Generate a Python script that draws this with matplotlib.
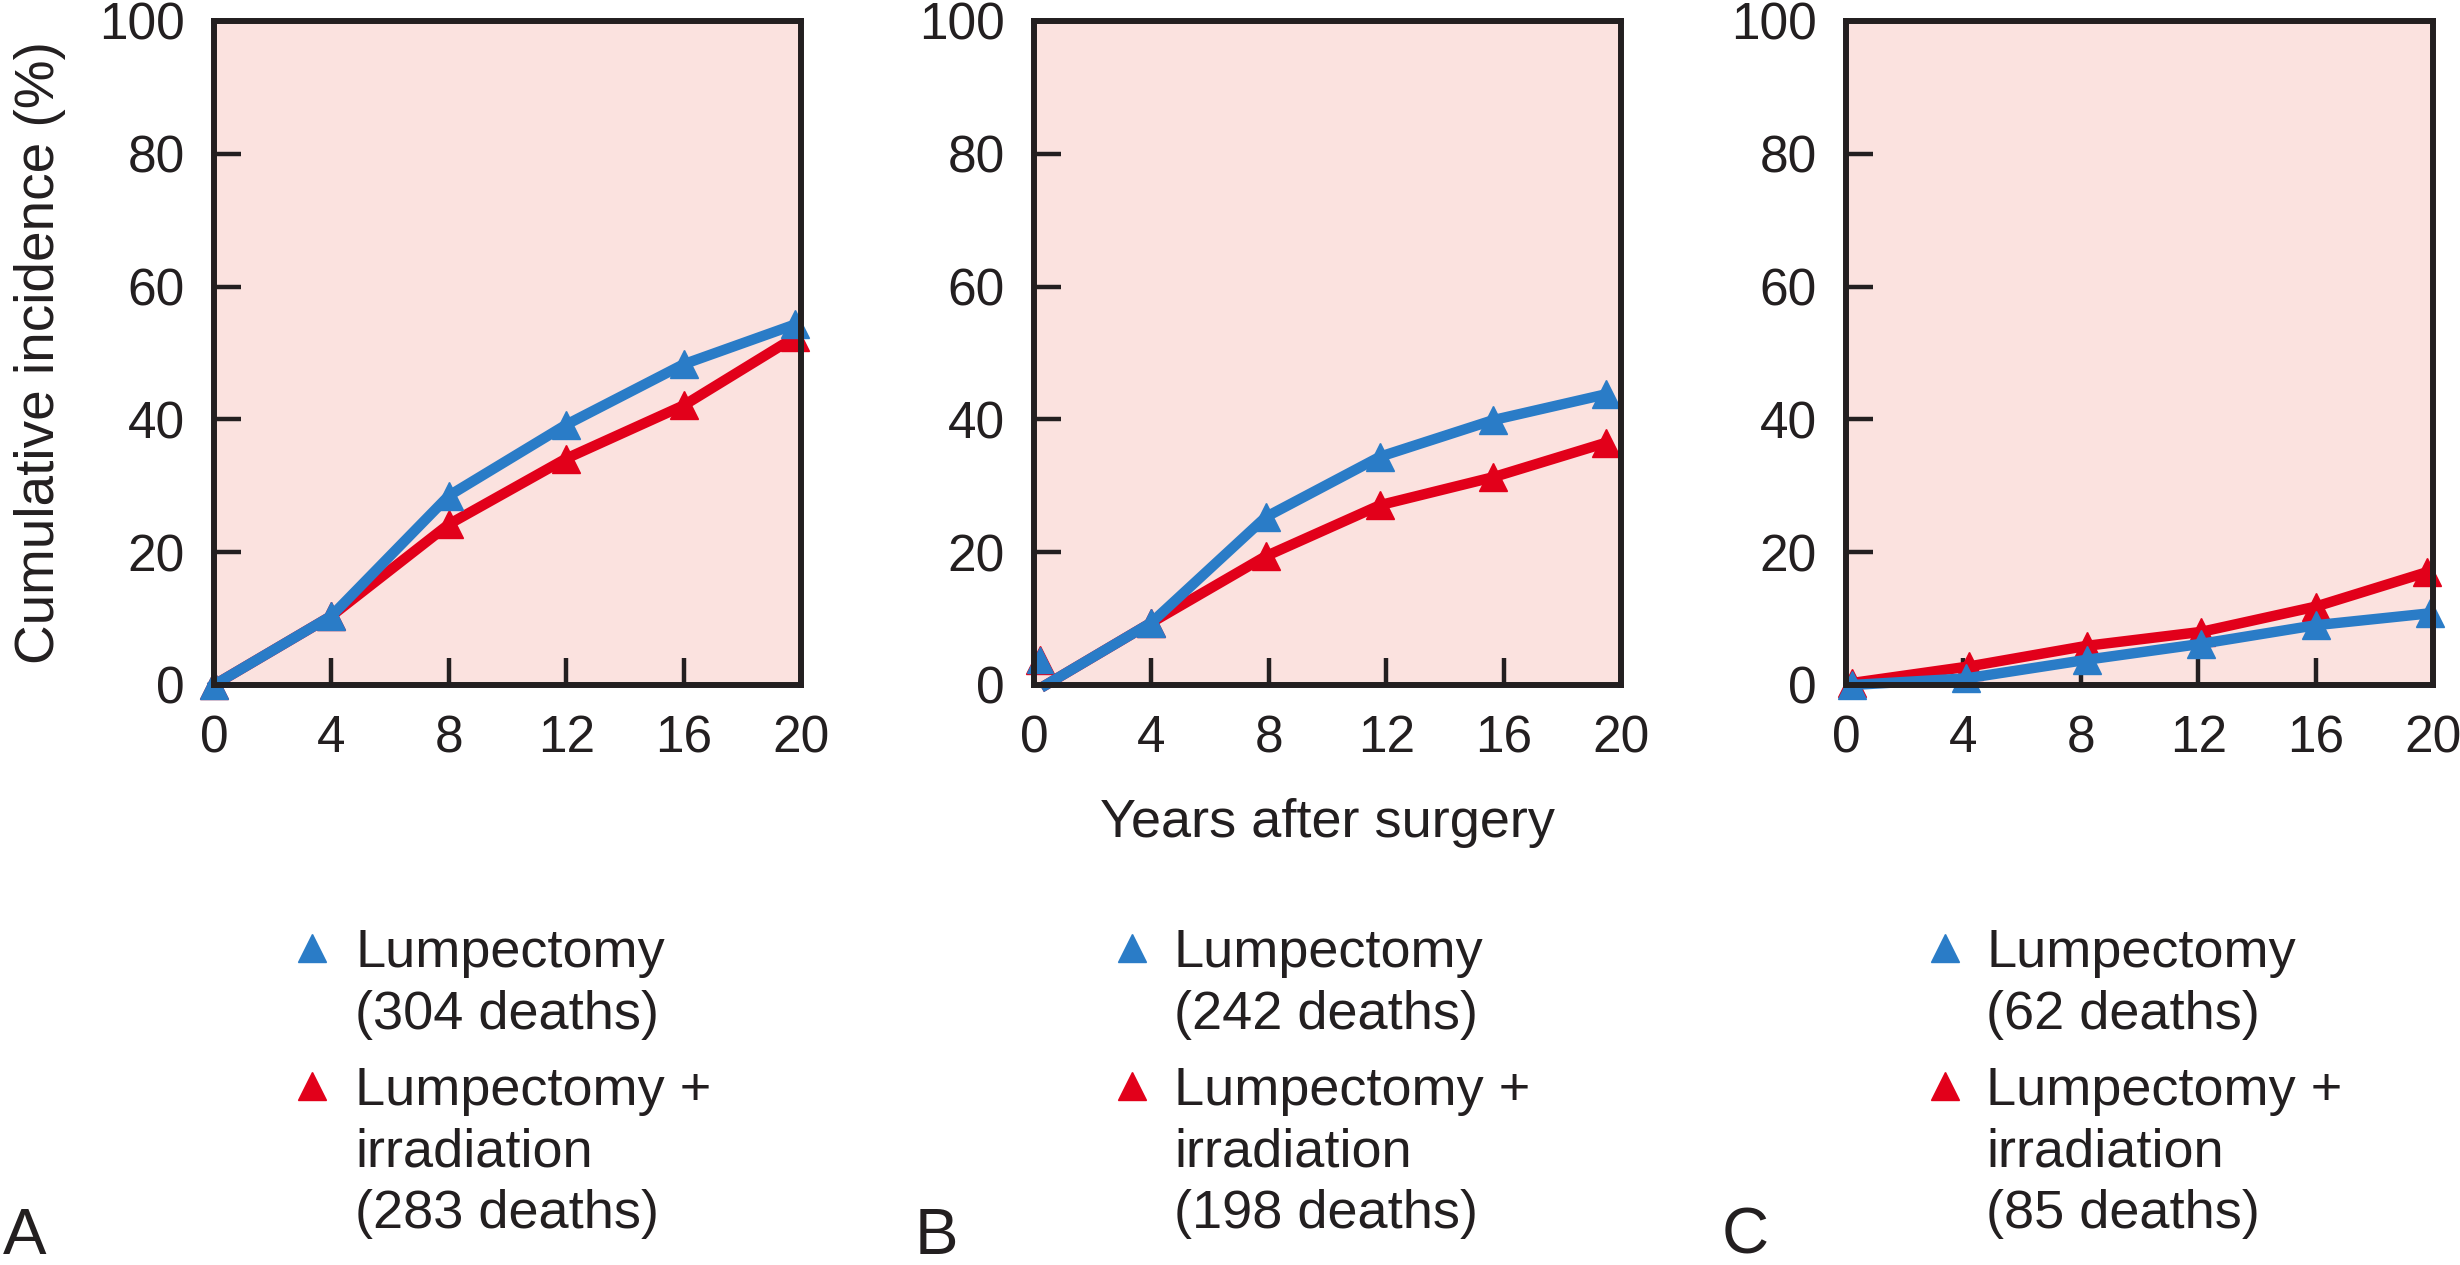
import numpy as np
import matplotlib
matplotlib.use('Agg')
import matplotlib.pyplot as plt
from matplotlib.lines import Line2D

plt.rcParams['font.family'] = ['Liberation Sans', 'DejaVu Sans']

# ---------------------------------------------------------
# 1. Data
# ---------------------------------------------------------

year_ticks = [0, 4, 8, 12, 16, 20]
incidence_ticks = [0, 20, 40, 60, 80, 100]

# Panel A
a_lump_x = [0, 4, 8, 12, 16, 19.8]
a_lump_y = [0, 10.4, 28.5, 39.2, 48.3, 54.3]
a_irr_x = [0, 4, 8, 12, 16, 19.8]
a_irr_y = [0, 10.4, 24.2, 34.1, 42.1, 52.4]

# Panel B (line starts just right of 0, start markers sit a bit above it)
b_lump_x = [0.4, 4, 7.9, 11.8, 15.65, 19.5]
b_lump_y = [0, 9.4, 25.3, 34.4, 39.9, 43.8]
b_irr_x = [0.4, 4, 7.9, 11.8, 15.65, 19.5]
b_irr_y = [0, 9.4, 19.4, 27.1, 31.3, 36.5]
b_start_x = [0.2]
b_start_y = [3.8]

# Panel C
c_lump_x = [0.2, 4.1, 8.2, 12.1, 16.0, 19.9]
c_lump_y = [0, 1.0, 3.8, 6.2, 9.0, 10.8]
c_irr_x = [0.2, 4.2, 8.2, 12.1, 16.0, 19.8]
c_irr_y = [0.3, 2.8, 5.9, 8.0, 11.8, 17.0]

panel_letters = ['A', 'B', 'C']
lump_deaths = [304, 242, 62]
irr_deaths = [283, 198, 85]

# ---------------------------------------------------------
# 2. Style / layout
# ---------------------------------------------------------

BLUE = '#2a7cc7'
RED = '#e2001a'
BG = '#fbe2df'
INK = '#231f20'

W, H = 2460, 1265
fig = plt.figure(figsize=(W / 100, H / 100), dpi=100)

def fx(px):
    return px / W

def fy(py):
    return 1 - py / H

axes_left = [214, 1034, 1846]
axes_w = 587
axes_top, axes_bottom = 21, 685

LW = 7.5
MS = 20

axes = []
for left in axes_left:
    ax = fig.add_axes([fx(left), fy(axes_bottom), axes_w / W, (axes_bottom - axes_top) / H])
    ax.set_facecolor(BG)
    ax.set_xlim(0, 20)
    ax.set_ylim(0, 100)
    ax.set_xticks(year_ticks)
    ax.set_yticks(incidence_ticks)
    for sp in ax.spines.values():
        sp.set_linewidth(4.3)
        sp.set_color(INK)
    ax.tick_params(direction='in', length=19.5, width=3.2, color=INK,
                   labelsize=37, labelcolor=INK, pad=21)
    axes.append(ax)

def draw_series(ax, x, y, color, **kw):
    ax.plot(x, y, color=color, lw=LW, marker='^', ms=MS, mec=color,
            solid_joinstyle='miter', clip_on=False, **kw)

# Panel A
draw_series(axes[0], a_irr_x, a_irr_y, RED)
draw_series(axes[0], a_lump_x, a_lump_y, BLUE)

# Panel B
axes[1].plot(b_start_x, b_start_y, '^', color=RED, ms=MS, clip_on=False)
axes[1].plot(b_start_x, b_start_y, '^', color=BLUE, ms=MS - 1, clip_on=False)
draw_series(axes[1], b_irr_x, b_irr_y, RED, markevery=[1, 2, 3, 4, 5])
draw_series(axes[1], b_lump_x, b_lump_y, BLUE, markevery=[1, 2, 3, 4, 5])

# Panel C
draw_series(axes[2], c_irr_x, c_irr_y, RED)
draw_series(axes[2], c_lump_x, c_lump_y, BLUE)

# ---------------------------------------------------------
# 3. Axis labels
# ---------------------------------------------------------

fig.text(fx(40), fy(353), 'Cumulative incidence (%)', rotation=90,
         ha='center', va='center', fontsize=39.5, color=INK)
fig.text(fx(1327), fy(837), 'Years after surgery', ha='center',
         va='baseline', fontsize=39, color=INK)

# ---------------------------------------------------------
# 4. Legends and panel letters
# ---------------------------------------------------------

marker_x = [312, 1132, 1945]
text_x = [355, 1174, 1986]
letter_x = [3, 915, 1722]

for i in range(3):
    entries = [
        (BLUE, ['Lumpectomy', f'({lump_deaths[i]} deaths)'], 967),
        (RED, ['Lumpectomy +', 'irradiation', f'({irr_deaths[i]} deaths)'], 1105),
    ]
    for color, lines, base in entries:
        fig.add_artist(Line2D([fx(marker_x[i])], [fy(base - 19)], marker='^',
                              ms=MS, color=color, lw=0, transform=fig.transFigure))
        for k, txt in enumerate(lines):
            fig.text(fx(text_x[i]), fy(base + k * 61.5), txt, ha='left',
                     va='baseline', fontsize=39, color=INK)
    fig.text(fx(letter_x[i]), fy(1254), panel_letters[i], ha='left',
             va='baseline', fontsize=47, color=INK)

fig.savefig('out.png', dpi=100)
